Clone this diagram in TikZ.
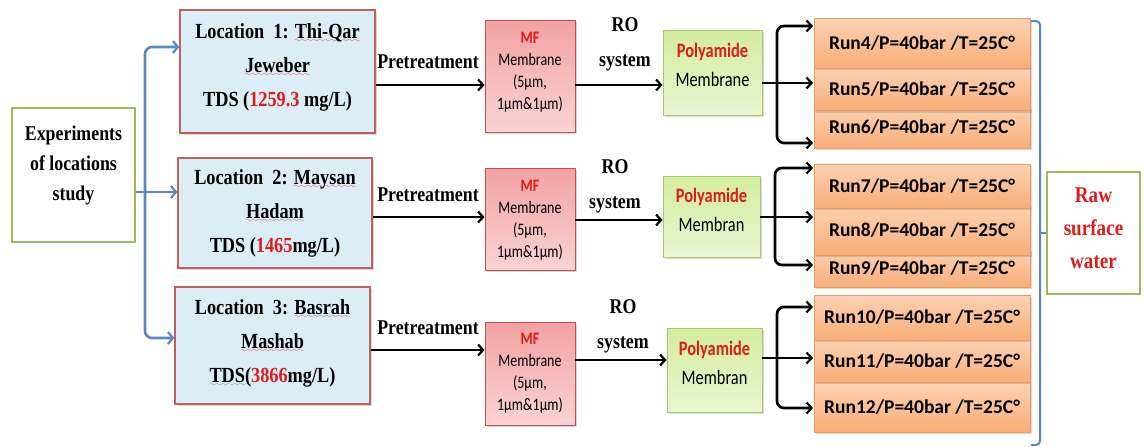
\documentclass[tikz,border=0pt]{standalone}
\usepackage{fontspec}
\setmainfont{Liberation Serif}
\newfontfamily\serifN[FakeStretch=0.85]{Liberation Serif}
\newfontfamily\calib{Carlito}
\newfontfamily\calibC[FakeStretch=0.8]{Carlito}
\usetikzlibrary{arrows.meta,shadows}
\definecolor{locfill}{HTML}{DCEEF5}
\definecolor{locdraw}{HTML}{C25E5E}
\definecolor{mfdraw}{HTML}{C0504D}
\definecolor{mftop}{HTML}{F2A2A2}
\definecolor{mfbot}{HTML}{FAD3D3}
\definecolor{polydraw}{HTML}{A9C86C}
\definecolor{polytop}{HTML}{D3ED9E}
\definecolor{polybot}{HTML}{EAF6D2}
\definecolor{rundraw}{HTML}{F09A5C}
\definecolor{runtop}{HTML}{FCD2B2}
\definecolor{runbot}{HTML}{F8AE78}
\definecolor{greenb}{HTML}{9BBB59}
\definecolor{conblue}{HTML}{5B87C2}
\definecolor{numred}{HTML}{E01B1B}
\definecolor{spellred}{HTML}{E03030}
\definecolor{spellgreen}{HTML}{3FA34D}
\font\wavefont=lasy8
\newcommand\wavy[2]{\setbox0\hbox{#2}\rlap{\textcolor{#1}{\lower4pt\hbox to\wd0{\xleaders\hbox{\wavefont\char58}\hfil}}}\box0}
\begin{document}
\begin{tikzpicture}[x=1pt,y=-1pt,
  base/.style={rectangle, inner sep=0pt},
  txt/.style={inner sep=0pt, align=center},
  shad/.style={drop shadow={shadow xshift=2pt,shadow yshift=-2pt,opacity=0.3}},
  loc/.style={base, shad, draw=locdraw, fill=locfill, line width=1.3pt, minimum width=195pt},
  loctxt/.style={txt, font=\serifN\bfseries\fontsize{21.5}{34}\selectfont},
  mf/.style={base, shad, draw=mfdraw, top color=mftop, bottom color=mfbot, line width=0.9pt,
    minimum width=90pt},
  mftxt/.style={txt, font=\calibC\fontsize{17.5}{22}\selectfont},
  poly/.style={base, shad, draw=polydraw, top color=polytop, bottom color=polybot, line width=0.9pt},
  polytxt/.style={txt, font=\calibC\fontsize{20.5}{29}\selectfont},
  run/.style={base, shad, draw=rundraw, top color=runtop, bottom color=runbot, line width=0.8pt,
    minimum width=216pt, align=center, font=\calib\bfseries\fontsize{19.5}{22}\selectfont},
  gbox/.style={base, draw=greenb, fill=white, line width=1.5pt},
  lbl/.style={txt, font=\serifN\bfseries\fontsize{21}{35}\selectfont},
  blk/.style={draw=black, line width=2.7pt},
  blkarrow/.style={blk, -{Straight Barb[length=5pt,width=11pt,line width=2.2pt]}},
  blue/.style={draw=conblue, line width=2.6pt},
  bluearrow/.style={blue, -{Straight Barb[length=5pt,width=12pt,line width=2.2pt]}},
  bracket/.style={draw=conblue, line width=2pt}
]
\useasboundingbox (0,0) rectangle (1144,447);

% left box
\node[gbox, minimum width=123pt, minimum height=134pt] (exp) at (73.5,175) {};
\node[txt, font=\serifN\bfseries\fontsize{21}{30}\selectfont] (expt) at (73.5,165) {Experiments\\of locations\\study};

% location boxes
\node[loc, minimum height=123pt] (loc1) at (277.5,71.5) {};
\node[loctxt] (loc1t) at (277.5,67)
  {Location\ \ 1: \wavy{spellred}{Thi-Qar}\\ \wavy{spellred}{Jeweber}\\ TDS (\textcolor{numred}{1259.3} mg/L)};
\node[loc, minimum width=194pt, minimum height=110pt] (loc2) at (275,213) {};
\node[loctxt] (loc2t) at (275,213)
  {Location\ \ 2: \wavy{spellred}{Maysan}\\ \wavy{spellred}{Hadam}\\ TDS (\textcolor{numred}{1465}mg/L)};
\node[loc, minimum height=117pt] (loc3) at (272.5,345.5) {};
\node[loctxt] (loc3t) at (272.5,343)
  {Location\ \ 3: \wavy{spellred}{Basrah}\\ \wavy{spellred}{Mashab}\\ \wavy{spellgreen}{TDS(}\textcolor{numred}{3866}mg/L)};

% MF boxes
\node[mf, minimum height=112pt] (mf1) at (530,76) {};
\node[mftxt] (mf1t) at (530,72) {\textcolor{numred}{\bfseries MF}\\Membrane\\(5µm,\\1µm\&1µm)};
\node[mf, minimum height=102pt] (mf2) at (530,219) {};
\node[mftxt] (mf2t) at (530,220) {\textcolor{numred}{\bfseries MF}\\Membrane\\(5µm,\\1µm\&1µm)};
\node[mf, minimum height=103pt] (mf3) at (530,373.5) {};
\node[mftxt] (mf3t) at (530,373) {\textcolor{numred}{\bfseries MF}\\Membrane\\(5µm,\\1µm\&1µm)};

% Polyamide boxes
\node[poly, minimum width=99pt, minimum height=85pt] (p1) at (712.5,72.5) {};
\node[polytxt] (p1t) at (712.5,65) {\textcolor{numred}{\bfseries Polyamide}\\Membrane};
\node[poly, minimum width=97pt, minimum height=81pt] (p2) at (711.5,216.5) {};
\node[polytxt] (p2t) at (711.5,210) {\textcolor{numred}{\bfseries Polyamide}\\Membran};
\node[poly, minimum width=95pt, minimum height=84pt] (p3) at (714.5,370) {};
\node[polytxt] (p3t) at (714.5,363) {\textcolor{numred}{\bfseries Polyamide}\\Membran};

% Run boxes (drawn bottom-up so upper boxes overlap)
\node[run, minimum height=42pt] (r6) at (922,127) {Run6/P=40bar /T=25C°};
\node[run, minimum height=43pt] (r5) at (922,89) {Run5/P=40bar /T=25C°};
\node[run, minimum height=50pt] (r4) at (922,43) {Run4/P=40bar /T=25C°};
\node[run, minimum height=38pt] (r9) at (922,268) {Run9/P=40bar /T=25C°};
\node[run, minimum height=50pt] (r8) at (922,230) {Run8/P=40bar /T=25C°};
\node[run, minimum height=44pt] (r7) at (922,186) {Run7/P=40bar /T=25C°};
\node[run, minimum height=50pt] (r12) at (922,407) {Run12/P=40bar /T=25C°};
\node[run, minimum height=42pt] (r11) at (922,361) {Run11/P=40bar /T=25C°};
\node[run, minimum height=45pt] (r10) at (922,317.5) {Run10/P=40bar /T=25C°};

% Raw surface water
\node[gbox, minimum width=93pt, minimum height=122pt] (raw) at (1093.5,233) {};
\node[txt, text=numred, font=\serifN\bfseries\fontsize{22.5}{33}\selectfont] (rawt) at (1093.5,228.5) {Raw\\surface\\water};

% labels
\node[lbl] (pt1) at (428,62) {Pretreatment};
\node[lbl] (pt2) at (428,195) {Pretreatment};
\node[lbl] (pt3) at (428,328) {Pretreatment};
\node[lbl] (ro1) at (625,44) {RO\\system};
\node[lbl] (ro2) at (615,186) {RO\\system};
\node[lbl] (ro3) at (623,326) {RO\\system};

% y-levels
\coordinate (yb1) at (0,47);
\coordinate (yb2) at (0,192);
\coordinate (yb3) at (0,338);
\coordinate (bj) at (145,192);
\coordinate (ya1) at (0,85);
\coordinate (ya2) at (0,217);
\coordinate (ya3) at (0,350);
\coordinate (yc1) at (0,85);
\coordinate (yc2) at (0,220);
\coordinate (yc3) at (0,360);

% blue distribution
\draw[bluearrow] (exp.east |- yb2) -- (loc2.west |- yb2);
\draw[bluearrow, rounded corners=7pt] (bj) |- (loc1.west |- yb1);
\draw[bluearrow, rounded corners=7pt] (bj) |- (loc3.west |- yb3);

% pretreatment arrows
\draw[blkarrow] (loc1.east |- ya1) -- (mf1.west |- ya1);
\draw[blkarrow] (loc2.east |- ya2) -- (mf2.west |- ya2);
\draw[blkarrow] (loc3.east |- ya3) -- (mf3.west |- ya3);

% RO arrows
\draw[blkarrow] (mf1.east |- yc1) -- (p1.west |- yc1);
\draw[blkarrow] (mf2.east |- yc2) -- (p2.west |- yc2);
\draw[blkarrow] (mf3.east |- yc3) -- (p3.west |- yc3);

% branch arrows row 1
\coordinate (j1) at (777,83);
\coordinate (a4) at (813,26);
\coordinate (a5) at (813,83);
\coordinate (a6) at (813,143);
\draw[blk] (p1.east |- j1) -- (j1);
\draw[blkarrow, rounded corners=7pt] (j1) |- (a4);
\draw[blkarrow] (j1) -- (a5);
\draw[blkarrow, rounded corners=7pt] (j1) |- (a6);

% branch arrows row 2
\coordinate (j2) at (775,217);
\coordinate (a7) at (813,168);
\coordinate (a8) at (813,217);
\coordinate (a9) at (813,265);
\draw[blk] (p2.east |- j2) -- (j2);
\draw[blkarrow, rounded corners=7pt] (j2) |- (a7);
\draw[blkarrow] (j2) -- (a8);
\draw[blkarrow, rounded corners=7pt] (j2) |- (a9);

% branch arrows row 3
\coordinate (j3) at (777,358);
\coordinate (a10) at (813,307);
\coordinate (a11) at (813,358);
\coordinate (a12) at (813,408);
\draw[blk] (p3.east |- j3) -- (j3);
\draw[blkarrow, rounded corners=7pt] (j3) |- (a10);
\draw[blkarrow] (j3) -- (a11);
\draw[blkarrow, rounded corners=7pt] (j3) |- (a12);

% right bracket
\coordinate (bt) at (1031,21);
\coordinate (bb) at (1031,445);
\coordinate (bm) at (1040,233);
\draw[bracket, rounded corners=4pt] (bt) -- (1040,21) -- (1040,445) -- (bb);
\draw[bracket] (bm) -- (raw.west);
\end{tikzpicture}
\end{document}
